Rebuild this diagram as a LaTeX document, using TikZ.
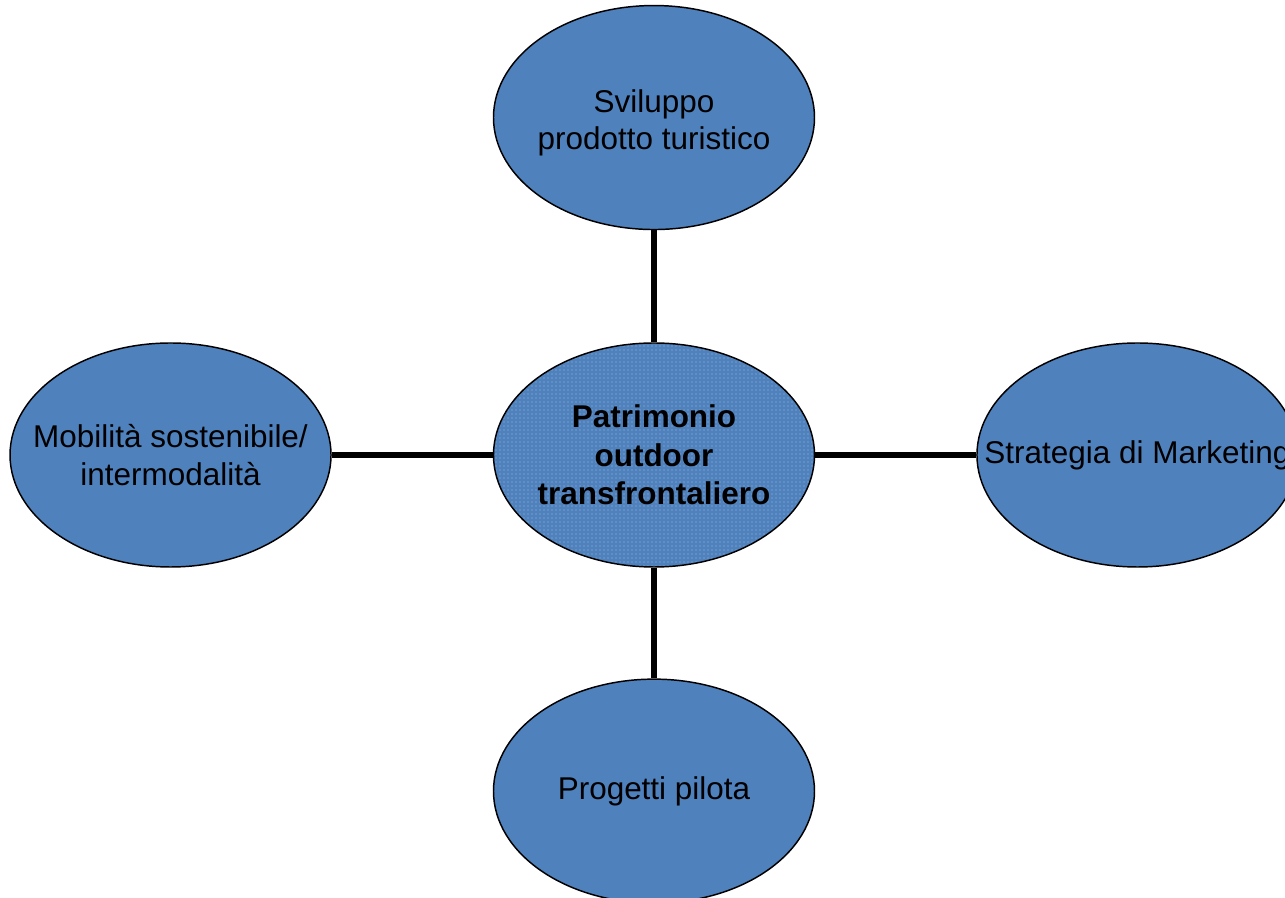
\documentclass[tikz,border=0pt]{standalone}
\usepackage{fontspec}
\setmainfont{Liberation Sans}
\usetikzlibrary{shapes,positioning,patterns}
\definecolor{bubblefill}{RGB}{79,129,189}
\tikzset{
  bubble/.style = {ellipse, draw, line width=1.1pt, fill=bubblefill,
  minimum width=240.75pt, minimum height=168pt, inner sep=0pt},
  corebubble/.style = {bubble, fill=none, preaction={fill=bubblefill},
  pattern=dots, pattern color=white!45!bubblefill},
  txt/.style = {align=center, font=\fontsize{23.6}{28}\selectfont},
  link/.style = {draw, line width=3.8pt}
}

\begin{document}
\begin{tikzpicture}[every label/.style={txt}]

    \useasboundingbox (-490.5pt,-332.25pt) rectangle (473.25pt,341.25pt);

% central topic
    \node[corebubble, label={[font=\fontsize{23.6}{29}\selectfont\bfseries]center:Patrimonio\\outdoor\\transfrontaliero}] (core) at (0,0) {};

% the four themes round it
    \node[bubble, above=84pt of core, label={[yshift=-4pt]center:Sviluppo\\prodotto turistico}] (dev) {};
    \node[bubble, left=120.75pt of core, label={center:Mobilità sostenibile/\\intermodalità}] (mob) {};
    \node[bubble, right=120.75pt of core, label={center:Strategia di Marketing}] (mkt) {};
    \node[bubble, below=83pt of core, label={center:Progetti pilota}] (pilot) {};

% links from the centre to each theme
    \foreach \value in {dev,mob,mkt,pilot}
    \draw[link] (core) -- (\value);

\end{tikzpicture}
\end{document}
